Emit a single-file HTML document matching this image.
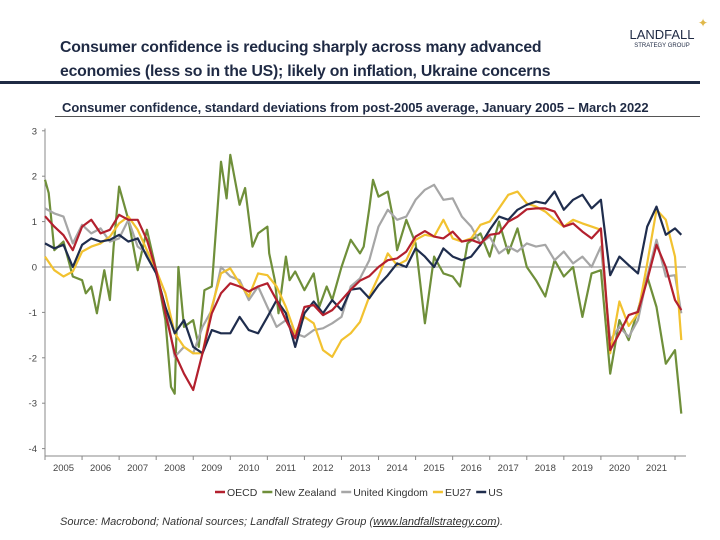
<!DOCTYPE html>
<html><head><meta charset="utf-8"><style>
body{margin:0;background:#fff;font-family:"Liberation Sans",sans-serif;}
#wrap{position:relative;width:720px;height:540px;overflow:hidden;background:#fff;}
.t{position:absolute;white-space:nowrap;}
</style></head><body>
<div id="wrap">
<div class="t" style="left:60px;top:36px;font-size:15.8px;font-weight:bold;line-height:24px;color:#1f2a44;letter-spacing:-0.2px">Consumer confidence is reducing sharply across many advanced<br>economies (less so in the US); likely on inflation, Ukraine concerns</div>
<div class="t" style="left:620px;top:28px;width:84px;text-align:center;color:#1f2a44">
<div style="font-size:13px;line-height:14px">LANDFALL</div><div style="font-size:6px;line-height:8px">STRATEGY GROUP</div>
<div style="position:absolute;left:78px;top:-12px;color:#e0b84a;font-size:12px">✦</div></div>
<div style="position:absolute;left:0;top:81px;width:700px;height:3px;background:#1f2a44"></div>
<div class="t" style="left:62px;top:100px;font-size:13px;font-weight:bold;color:#1f2a44;letter-spacing:-0.05px">Consumer confidence, standard deviations from post-2005 average, January 2005 – March 2022</div>
<div style="position:absolute;left:55px;top:116px;width:645px;height:1px;background:#555"></div>
<svg id="chart" width="720" height="540" style="position:absolute;left:0;top:0"></svg>
<div class="t" style="left:60px;top:516px;font-size:11px;font-style:italic;color:#333">Source: Macrobond; National sources; Landfall Strategy Group (<span style="text-decoration:underline">www.landfallstrategy.com</span>).</div>
</div>
<script>
const years=[2005,2006,2007,2008,2009,2010,2011,2012,2013,2014,2015,2016,2017,2018,2019,2020,2021];
const yTicks=[3,2,1,0,-1,-2,-3,-4];
const qDates=[2005,2005.25,2005.5,2005.75,2006,2006.25,2006.5,2006.75,2007,2007.25,2007.5,2007.75,2008,2008.25,2008.5,2008.75,2009,2009.25,2009.5,2009.75,2010,2010.25,2010.5,2010.75,2011,2011.25,2011.5,2011.75,2012,2012.25,2012.5,2012.75,2013,2013.25,2013.5,2013.75,2014,2014.25,2014.5,2014.75,2015,2015.25,2015.5,2015.75,2016,2016.25,2016.5,2016.75,2017,2017.25,2017.5,2017.75,2018,2018.25,2018.5,2018.75,2019,2019.25,2019.5,2019.75,2020,2020.25,2020.5,2020.75,2021,2021.25,2021.5,2021.75,2022,2022.17];
const oecd=[1.12,0.89,0.7,0.37,0.89,1.04,0.74,0.82,1.15,1.04,1.04,0.6,-0.07,-1.02,-1.9,-2.35,-2.71,-1.9,-1.02,-0.58,-0.36,-0.43,-0.54,-0.43,-0.36,-0.73,-1.17,-1.57,-0.88,-0.84,-1.06,-0.95,-0.73,-0.5,-0.3,-0.2,0.0,0.15,0.19,0.34,0.67,0.79,0.67,0.63,0.78,0.56,0.6,0.52,0.71,0.74,1.0,1.11,1.27,1.29,1.29,1.22,0.89,0.96,0.78,0.63,0.85,-1.83,-1.46,-1.06,-0.99,-0.29,0.49,0,-0.73,-0.95];
const us=[0.52,0.41,0.49,0,0.49,0.63,0.56,0.6,0.71,0.56,0.63,0.23,-0.14,-0.88,-1.46,-1.17,-1.76,-1.9,-1.39,-1.46,-1.46,-1.1,-1.39,-1.46,-1.1,-0.73,-1.02,-1.76,-1.02,-0.76,-1.02,-0.73,-0.95,-0.5,-0.47,-0.69,-0.4,-0.18,0.08,0,0.41,0.23,0,0.41,0.23,0.15,0.23,0.49,0.82,1.11,1.04,1.26,1.37,1.44,1.4,1.66,1.26,1.48,1.59,1.29,1.48,-0.18,0.23,0.04,-0.14,0.89,1.33,0.71,0.85,0.71];
const eu27=[0.23,-0.07,-0.21,-0.1,0.34,0.45,0.52,0.67,0.96,1.11,0.82,0.37,-0.07,-0.58,-1.46,-1.76,-1.9,-1.9,-0.88,-0.14,-0.03,-0.36,-0.65,-0.14,-0.18,-0.43,-0.88,-1.46,-1.1,-1.24,-1.83,-1.98,-1.61,-1.46,-1.21,-0.65,-0.21,0.3,0.04,0.15,0.6,0.71,0.67,1.04,0.63,0.56,0.63,0.93,1.0,1.29,1.59,1.66,1.4,1.33,1.22,1.04,0.89,1.04,0.96,0.89,0.82,-1.9,-0.76,-1.3,-1.02,0.08,1.26,1.04,0.23,-1.61];
const uk=[1.29,1.18,1.11,0.52,0.93,0.74,0.85,0.56,0.63,1.04,0.45,0.3,-0.14,-0.88,-1.98,-1.76,-1.9,-1.32,-0.95,0,-0.21,-0.29,-0.73,-0.43,-0.88,-1.32,-1.17,-1.46,-1.54,-1.39,-1.35,-1.24,-1.1,-0.43,-0.25,0.15,0.89,1.26,1.04,1.11,1.48,1.7,1.81,1.48,1.51,1.11,0.89,0.52,0.67,0.3,0.45,0.34,0.52,0.45,0.49,0.15,0.34,0.08,0.23,0,0.45,-1.61,-1.32,-1.54,-1.17,-0.21,0.6,-0.21,-0.18,-1.02];
const nzDates=[2005,2005.1,2005.25,2005.5,2005.75,2006,2006.1,2006.25,2006.4,2006.6,2006.75,2006.85,2007,2007.25,2007.5,2007.75,2008,2008.25,2008.4,2008.5,2008.6,2008.75,2009,2009.15,2009.3,2009.5,2009.75,2009.9,2010,2010.25,2010.4,2010.6,2010.75,2011,2011.05,2011.2,2011.3,2011.5,2011.6,2011.75,2012,2012.25,2012.4,2012.6,2012.75,2013,2013.25,2013.5,2013.6,2013.75,2013.85,2014,2014.25,2014.4,2014.5,2014.75,2015,2015.25,2015.5,2015.75,2016,2016.2,2016.4,2016.75,2017,2017.25,2017.5,2017.75,2018,2018.25,2018.5,2018.75,2019,2019.25,2019.5,2019.75,2020,2020.25,2020.5,2020.75,2021,2021.25,2021.5,2021.75,2022,2022.17];
const nz=[1.92,1.63,0.37,0.56,-0.21,-0.29,-0.58,-0.43,-1.02,-0.07,-0.73,0.45,1.77,1.04,-0.07,0.82,-0.07,-1.17,-2.64,-2.79,0,-1.32,-1.17,-1.76,-0.51,-0.43,2.32,1.51,2.47,1.37,1.74,0.45,0.74,0.89,0.3,-0.29,-1.02,0.23,-0.29,-0.1,-0.51,-0.14,-0.88,-0.43,-0.73,0,0.6,0.3,0.45,1.29,1.92,1.55,1.66,1.04,0.37,1.04,0.52,-1.24,0.23,-0.14,-0.21,-0.43,0.52,0.74,0.23,1.0,0.3,0.85,0,-0.29,-0.65,0.15,-0.21,0,-1.1,-0.14,-0.07,-2.35,-1.17,-1.61,-0.95,-0.21,-0.88,-2.13,-1.83,-3.23];

const svg=document.getElementById('chart');const NS='http://www.w3.org/2000/svg';
const X0=45,XW=37.06,Y0=267,YU=45.4;
const xS=d=>X0+(d-2005)*XW, yS=v=>Y0-v*YU;
function mk(t,a){const e=document.createElementNS(NS,t);for(const k in a)e.setAttribute(k,a[k]);svg.appendChild(e);return e;}
let e=mk('line',{x1:X0,y1:yS(3.05),x2:X0,y2:456,stroke:'#888','stroke-width':1});


e=mk('line',{x1:X0,y1:456,x2:686,y2:456,stroke:'#888','stroke-width':1});


e=mk('line',{x1:X0,y1:yS(0),x2:686,y2:yS(0),stroke:'#888','stroke-width':1});


yTicks.forEach(v=>{
  const l=mk('line',{x1:X0-3,y1:yS(v),x2:X0,y2:yS(v),stroke:'#888'});
  
  
  const t=mk('text',{x:X0-8,y:yS(v)+3.5,'text-anchor':'end','font-size':9.5,fill:'#444','font-family':'Liberation Sans, sans-serif'});
  t.textContent=v;
  
  
});
years.concat([2022]).forEach(y=>{
  const l=mk('line',{x1:xS(y),y1:456,x2:xS(y),y2:460,stroke:'#888'});
  
  
});
years.forEach(y=>{
  const t=mk('text',{x:xS(y+0.5),y:471,'text-anchor':'middle','font-size':9.5,fill:'#444','font-family':'Liberation Sans, sans-serif'});
  t.textContent=y;
  
  
});
function line(ds,vs,col,name){
  const p=mk('polyline',{points:ds.map((d,i)=>xS(d).toFixed(1)+','+yS(vs[i]).toFixed(1)).join(' '),fill:'none',stroke:col,'stroke-width':2.2,'stroke-linejoin':'round'});
  
  
}
line(nzDates,nz,'#6f8f3a','series-new-zealand');
line(qDates,uk,'#a6a6a6','series-united-kingdom');
line(qDates,eu27,'#f2c230','series-eu27');
line(qDates,us,'#1f2d4d','series-us');
line(qDates,oecd,'#b3202e','series-oecd');
const leg=[['OECD','#b3202e'],['New Zealand','#6f8f3a'],['United Kingdom','#a6a6a6'],['EU27','#f2c230'],['US','#1f2d4d']];
let lx=215;
leg.forEach(([n,c])=>{
  const l=mk('line',{x1:lx,y1:492,x2:lx+10,y2:492,stroke:c,'stroke-width':2.5});
  
  
  const t=mk('text',{x:lx+12,y:496,'font-size':10.5,fill:'#333','font-family':'Liberation Sans, sans-serif'});
  t.textContent=n;
  
  
  lx+=12+t.getComputedTextLength()+5;
});
</script>
</body></html>
